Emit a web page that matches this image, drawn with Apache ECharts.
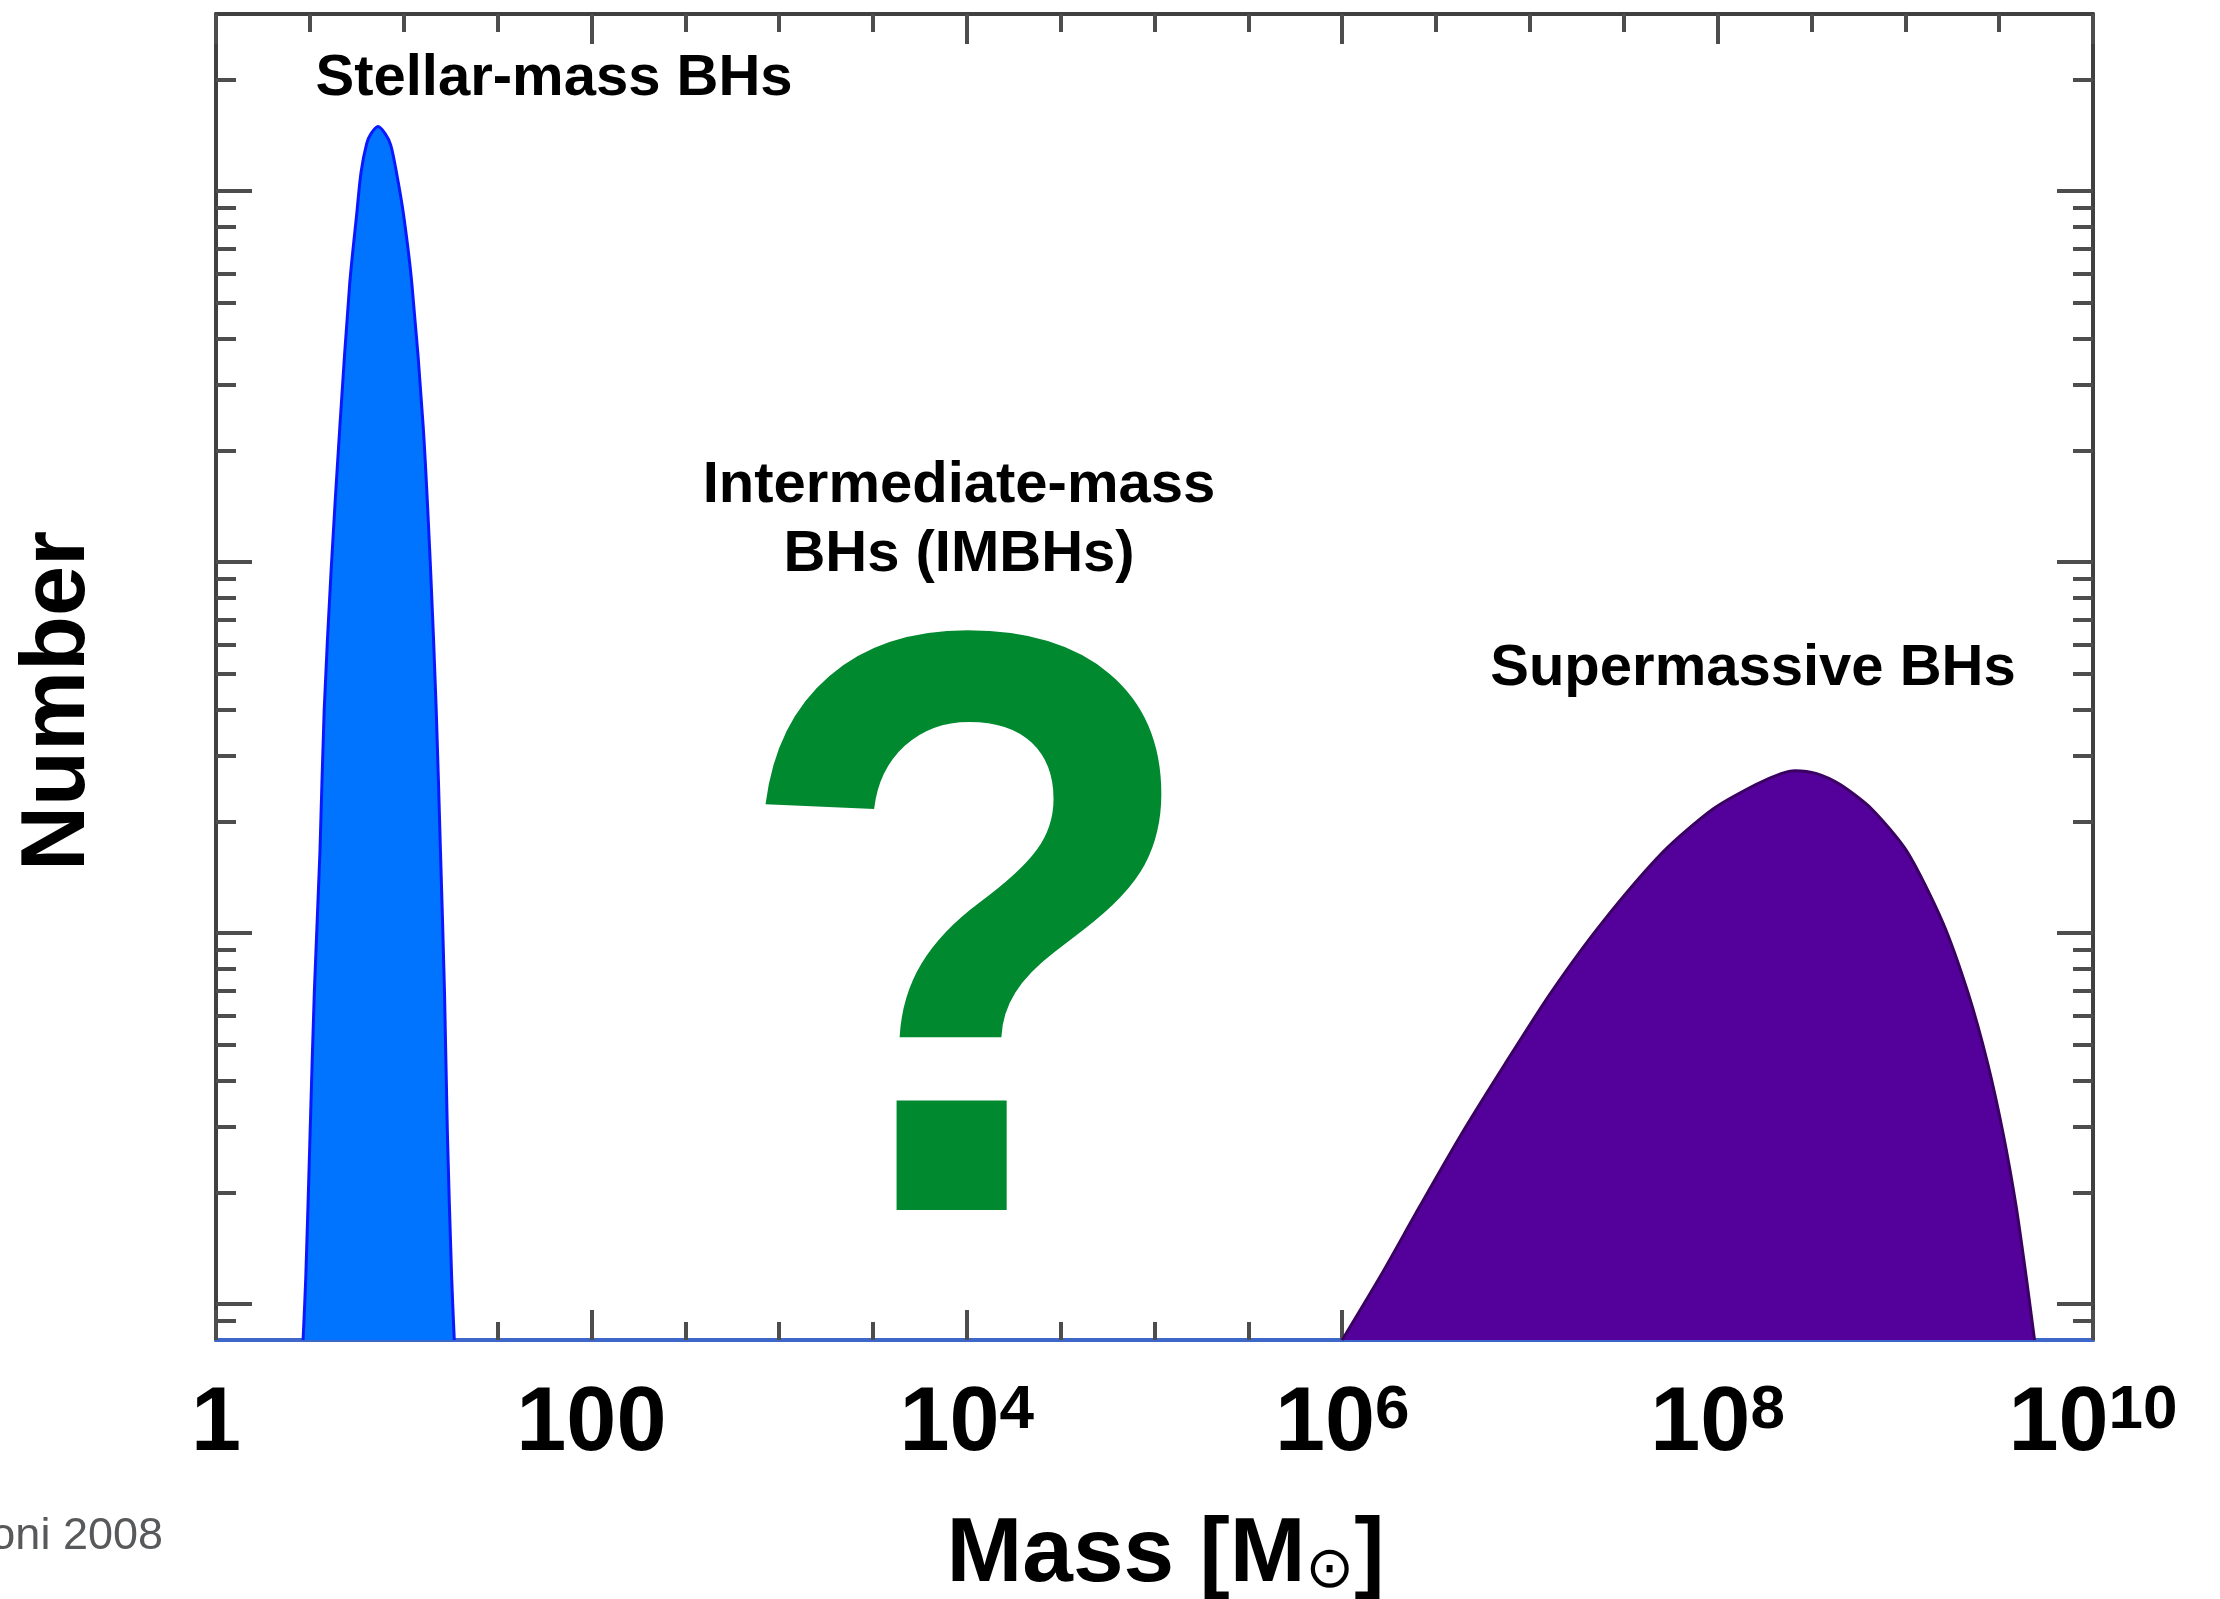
<!DOCTYPE html>
<html>
<head>
<meta charset="utf-8">
<script src="https://cdn.jsdelivr.net/npm/echarts@6/dist/echarts.min.js"></script>
<style>
  html, body { margin: 0; padding: 0; background: #ffffff; }
  #chart { width: 2220px; height: 1599px; }
</style>
</head>
<body>
<div id="chart"></div>
<script>
// ---- Data (mass in solar masses, number in arbitrary units) ----
const stellarMass   = [2.91, 3.01, 3.17, 3.34, 3.58, 3.77, 4.11, 4.57, 5.15, 5.62, 5.93, 6.35, 6.70, 7.30, 7.96, 8.53, 9.14, 9.97, 11.07, 12.7, 13.9, 14.9, 15.7, 16.5, 17.1, 18.0, 18.6];
const stellarNumber = [0.8, 1.19, 2.86, 6.9, 16.6, 39.9, 96, 232, 558, 867, 1125, 1342, 1428, 1492, 1428, 1330, 1125, 867, 558, 232, 96, 40, 16.6, 6.9, 2.86, 1.19, 0.8];

const smbhMass   = [1.0e6, 1.60e6, 2.60e6, 4.30e6, 7.38e6, 1.29e7, 2.44e7, 5.16e7, 9.46e7, 1.59e8, 2.18e8, 2.59e8, 3.37e8, 4.52e8, 6.62e8, 1.02e9, 1.58e9, 2.16e9, 2.75e9, 3.33e9, 3.89e9, 4.40e9, 4.88e9];
const smbhNumber = [0.8, 1.19, 1.84, 2.86, 4.44, 6.89, 10.7, 16.6, 21.6, 25.1, 26.9, 27.4, 26.9, 25.1, 21.6, 16.6, 10.7, 6.89, 4.44, 2.86, 1.84, 1.19, 0.8];

// ---- Axis ranges and ticks ----
const massRange   = [1, 1e10];
const numberRange = [0.8, 3000];
const xTickExp  = [0, 2, 4, 6, 8, 10];
const xTickBase = ['1', '100', '10', '10', '10', '10'];
const xTickSup  = ['', '', '4', '6', '8', '10'];
const yMajorTicks = [1, 10, 100, 1000];
const yMinorTicks = [0.9, 2, 3, 4, 5, 6, 7, 8, 9, 20, 30, 40, 50, 60, 70, 80, 90, 200, 300, 400, 500, 600, 700, 800, 900, 2000];

const annotations = {
  stellar: 'Stellar-mass BHs',
  imbh: 'Intermediate-mass\nBHs (IMBHs)',
  question: '?',
  smbh: 'Supermassive BHs',
  credit: 'Merloni 2008'
};

// ---- Build options ----
const L = Math.log10;
const FONT = "'Liberation Sans', Arial, Helvetica, sans-serif";
const xMin = L(massRange[0]), xMax = L(massRange[1]);
const yMin = L(numberRange[0]), yMax = L(numberRange[1]);

const frameColor = '#404040';
const tickColor = '#4d4d4d';

function xAxisDef(position, interval, tickLen, opts) {
  return Object.assign({
    type: 'value', position: position, min: xMin, max: xMax, interval: interval,
    axisLine: { show: false, onZero: false },
    axisTick: { show: true, inside: true, length: tickLen, lineStyle: { color: tickColor, width: 4 } },
    axisLabel: { show: false },
    splitLine: { show: false }
  }, opts || {});
}
function yAxisDef(position, ticks, tickLen, opts) {
  return Object.assign({
    type: 'value', position: position, min: yMin, max: yMax,
    axisLine: { show: false, onZero: false },
    axisTick: { show: true, inside: true, length: tickLen, customValues: ticks.map(L), lineStyle: { color: tickColor, width: 4 } },
    axisLabel: { show: false },
    splitLine: { show: false }
  }, opts || {});
}

const xAxes = [
  xAxisDef('bottom', 0.5, 18, { axisLine: { show: true, onZero: false, lineStyle: { color: '#3d68c9', width: 4 } } }),
  xAxisDef('bottom', 2, 30, {
    name: '{m|Mass [M}{o|⊙}{m|]}',
    nameLocation: 'middle',
    nameGap: 170,
    nameTextStyle: {
      padding: [0, 0, 0, 22],
      rich: {
        m: { fontFamily: FONT, fontWeight: 'bold', fontSize: 91, lineHeight: 91, color: '#000' },
        o: { fontFamily: 'DejaVu Sans', fontSize: 58, lineHeight: 30, verticalAlign: 'bottom', color: '#000' }
      }
    },
    axisLabel: {
      show: true, margin: 40, showMinLabel: true, showMaxLabel: true,
      formatter: function (v) {
        const i = xTickExp.indexOf(Math.round(v));
        if (i < 0) return '';
        return xTickSup[i] ? '{b|' + xTickBase[i] + '}{s|' + xTickSup[i] + '}' : '{b|' + xTickBase[i] + '}';
      },
      rich: {
        b: { fontFamily: FONT, fontWeight: 'bold', fontSize: 90, lineHeight: 90, verticalAlign: 'top', color: '#000' },
        s: { fontFamily: FONT, fontWeight: 'bold', fontSize: 62, lineHeight: 62, verticalAlign: 'top', color: '#000' }
      }
    }
  }),
  xAxisDef('top', 0.5, 18, { axisLine: { show: true, onZero: false, lineStyle: { color: frameColor, width: 4 } } }),
  xAxisDef('top', 2, 30)
];

const yAxes = [
  yAxisDef('left', yMinorTicks, 20, {
    axisLine: { show: true, onZero: false, lineStyle: { color: frameColor, width: 4 } },
    name: 'Number', nameLocation: 'middle', nameRotate: 90, nameGap: 112,
    nameTextStyle: { fontFamily: FONT, fontWeight: 'bold', fontSize: 90, color: '#000', padding: [0, 48, 0, 0] }
  }),
  yAxisDef('left', yMajorTicks, 36),
  yAxisDef('right', yMinorTicks, 20, { axisLine: { show: true, onZero: false, lineStyle: { color: frameColor, width: 4 } } }),
  yAxisDef('right', yMajorTicks, 36)
];

const option = {
  backgroundColor: '#ffffff',
  animation: false,
  grid: { left: 216, right: 127, top: 14, bottom: 259, containLabel: false, outerBoundsMode: 'none' },
  xAxis: xAxes,
  yAxis: yAxes,
  series: [
    {
      name: 'Stellar-mass BHs', type: 'line', xAxisIndex: 0, yAxisIndex: 0,
      data: stellarMass.map((m, i) => [L(m), L(stellarNumber[i])]),
      smooth: 0.3, symbol: 'none',
      lineStyle: { color: '#0a18ff', width: 3 },
      areaStyle: { color: '#0074ff', opacity: 1, origin: 'start' },
      z: 3
    },
    {
      name: 'Supermassive BHs', type: 'line', xAxisIndex: 0, yAxisIndex: 0,
      data: smbhMass.map((m, i) => [L(m), L(smbhNumber[i])]),
      smooth: 0.25, symbol: 'none',
      lineStyle: { color: '#3a0062', width: 3 },
      areaStyle: { color: '#54009b', opacity: 1, origin: 'start' },
      z: 3
    }
  ],
  graphic: [
    { type: 'text', x: 554, y: 79, z: 10,
      style: { text: annotations.stellar, font: 'bold 58px ' + FONT, fill: '#000', textAlign: 'center', textVerticalAlign: 'middle' } },
    { type: 'text', x: 959, y: 520, z: 10,
      style: { text: annotations.imbh, font: 'bold 58px ' + FONT, lineHeight: 69, fill: '#000', textAlign: 'center', textVerticalAlign: 'middle' } },
    { type: 'text', x: 968, y: 981, scaleX: 0.94, z: 10,
      style: { text: annotations.question, font: 'bold 830px ' + FONT, fill: '#00892f', textAlign: 'center', textVerticalAlign: 'middle' } },
    { type: 'text', x: 1753, y: 669, z: 10,
      style: { text: annotations.smbh, font: 'bold 58px ' + FONT, fill: '#000', textAlign: 'center', textVerticalAlign: 'middle' } },
    { type: 'text', x: 163, y: 1537, z: 10,
      style: { text: annotations.credit, font: '45px ' + FONT, fill: '#58595b', textAlign: 'right', textVerticalAlign: 'middle' } }
  ]
};

const chart = echarts.init(document.getElementById('chart'), null, { renderer: 'canvas', width: 2220, height: 1599 });
chart.setOption(option);
</script>
</body>
</html>
